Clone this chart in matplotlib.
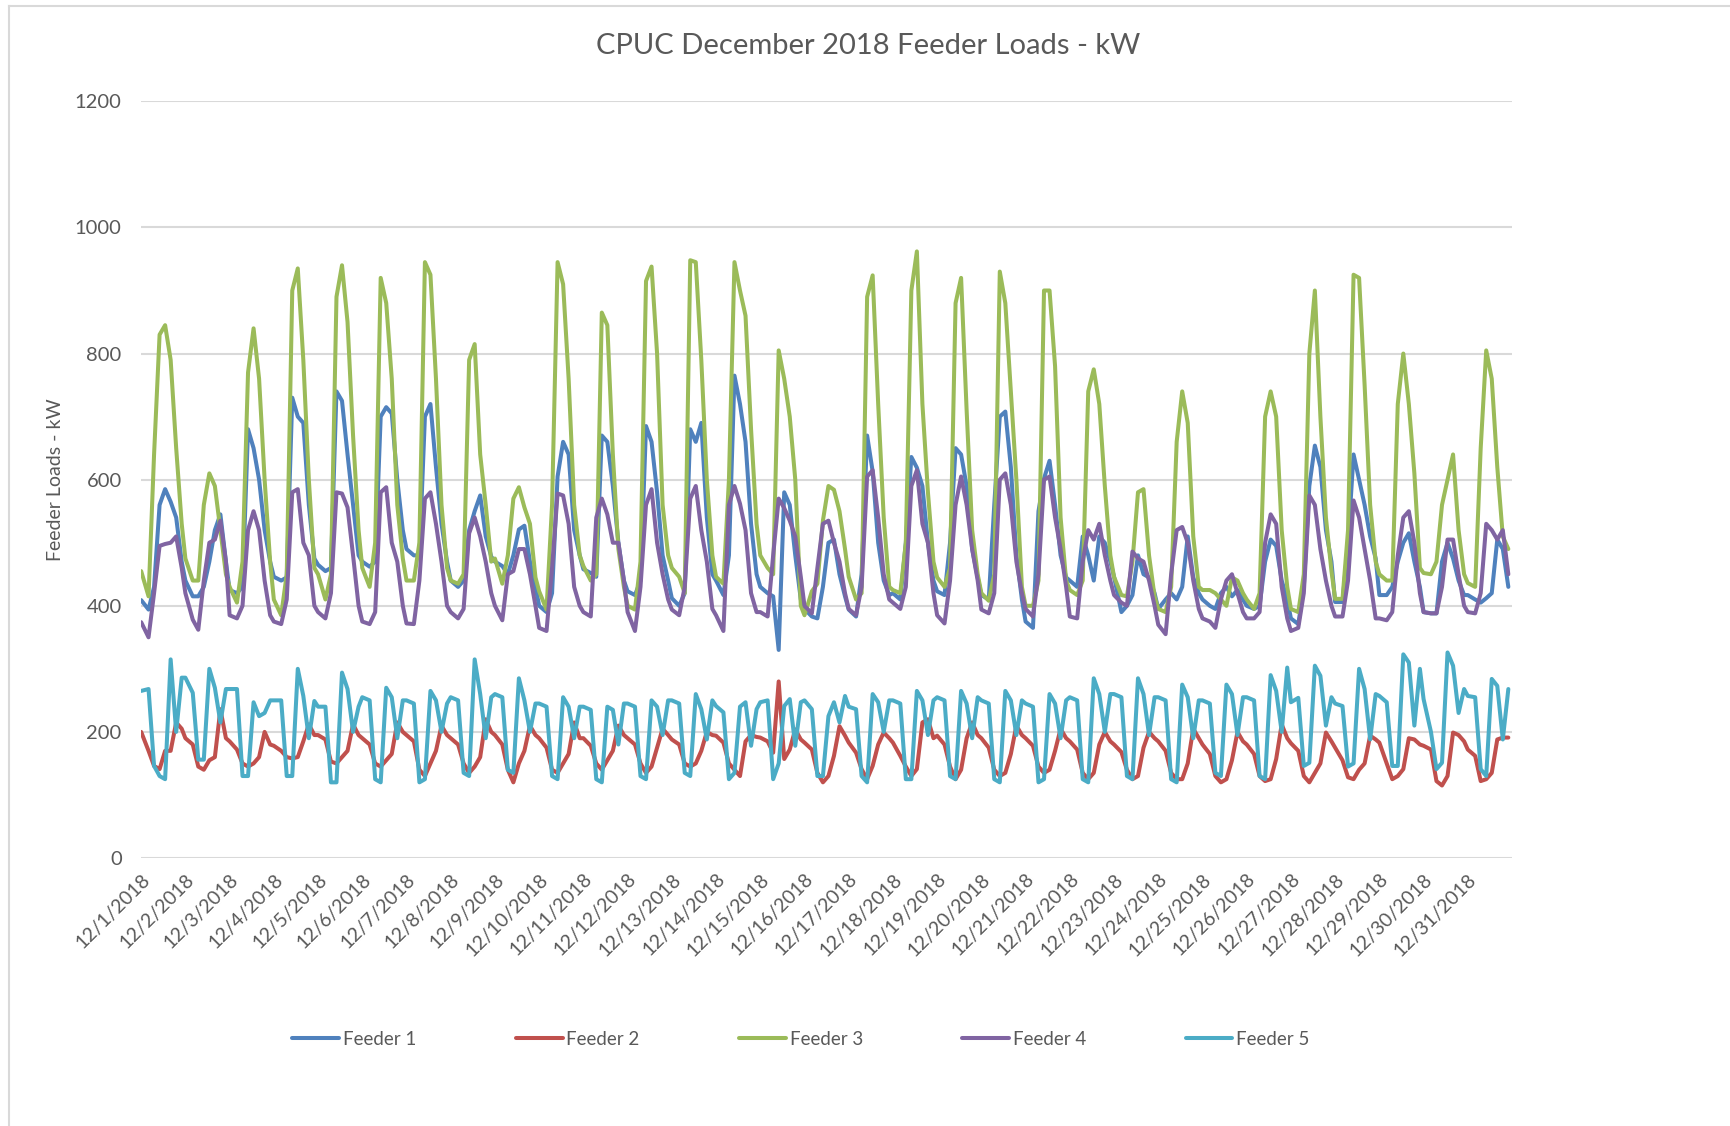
import numpy as np
import matplotlib
matplotlib.use("Agg")
import matplotlib.pyplot as plt
from matplotlib.lines import Line2D

plt.rcParams['font.family'] = ['Lato', 'DejaVu Sans']

# day labels (one tick per day, at the start of the day)
dates = [f"12/{d}/2018" for d in range(1, 32)]
# sample hours
hours = [0, 4, 7, 10, 13, 16, 19, 22]

# kW, one row per day, values at the hours above
feeder1 = [
    [409, 394, 430, 560, 585, 565, 540, 470],
    [440, 415, 415, 430, 470, 520, 545, 470],
    [425, 420, 430, 680, 650, 600, 520, 470],
    [446, 440, 445, 730, 700, 690, 560, 475],
    [465, 455, 460, 740, 725, 640, 560, 480],
    [470, 462, 470, 700, 715, 705, 600, 520],
    [490, 480, 480, 700, 720, 620, 530, 470],
    [440, 430, 440, 520, 550, 575, 510, 478],
    [470, 463, 450, 480, 521, 527, 470, 430],
    [400, 390, 420, 605, 660, 640, 520, 480],
    [458, 452, 446, 670, 660, 590, 500, 440],
    [423, 417, 440, 685, 660, 580, 480, 440],
    [412, 400, 420, 680, 660, 690, 540, 450],
    [440, 417, 480, 765, 720, 660, 530, 450],
    [430, 420, 415, 330, 580, 560, 480, 410],
    [395, 383, 380, 430, 500, 505, 450, 415],
    [394, 383, 450, 670, 613, 500, 440, 417],
    [420, 410, 500, 636, 619, 590, 500, 440],
    [423, 417, 500, 650, 640, 590, 490, 445],
    [417, 410, 560, 700, 708, 620, 480, 410],
    [375, 365, 550, 602, 630, 560, 480, 445],
    [440, 430, 510, 480, 440, 510, 500, 470],
    [446, 390, 400, 417, 480, 450, 445, 420],
    [395, 410, 420, 410, 430, 510, 445, 420],
    [410, 400, 395, 420, 430, 415, 425, 410],
    [400, 395, 400, 470, 505, 495, 440, 410],
    [380, 371, 430, 590, 654, 620, 520, 470],
    [406, 406, 500, 640, 600, 560, 510, 475],
    [417, 417, 430, 470, 500, 515, 470, 430],
    [390, 388, 388, 470, 500, 475, 440, 417],
    [417, 410, 405, 412, 420, 505, 490, 430],
]

feeder2 = [
    [200, 170, 146, 141, 170, 170, 215, 205],
    [190, 180, 145, 140, 155, 160, 236, 190],
    [185, 172, 150, 145, 150, 160, 200, 180],
    [178, 170, 160, 158, 160, 185, 212, 195],
    [195, 188, 153, 150, 160, 170, 212, 195],
    [190, 180, 150, 145, 155, 165, 215, 200],
    [195, 185, 140, 130, 150, 170, 210, 195],
    [190, 180, 150, 135, 145, 160, 220, 200],
    [195, 180, 140, 120, 150, 170, 210, 195],
    [190, 175, 140, 135, 150, 165, 215, 190],
    [190, 178, 150, 140, 155, 170, 210, 195],
    [190, 180, 150, 135, 145, 175, 205, 195],
    [188, 180, 150, 145, 150, 170, 200, 195],
    [194, 183, 150, 140, 130, 185, 195, 192],
    [191, 185, 167, 280, 157, 172, 204, 188],
    [183, 172, 135, 120, 130, 162, 209, 194],
    [183, 167, 141, 125, 146, 180, 199, 190],
    [183, 162, 145, 130, 141, 215, 220, 190],
    [194, 180, 145, 125, 140, 190, 215, 195],
    [190, 175, 140, 130, 135, 165, 210, 195],
    [190, 178, 145, 135, 140, 170, 205, 190],
    [185, 172, 135, 125, 135, 180, 200, 185],
    [180, 168, 140, 125, 130, 175, 200, 190],
    [185, 170, 135, 125, 125, 150, 205, 190],
    [180, 165, 130, 120, 125, 155, 200, 185],
    [180, 165, 130, 122, 125, 157, 212, 190],
    [182, 170, 130, 120, 135, 150, 199, 185],
    [175, 155, 128, 125, 140, 150, 194, 188],
    [183, 150, 125, 130, 141, 190, 188, 180],
    [178, 172, 122, 115, 130, 199, 195, 185],
    [172, 162, 122, 125, 135, 188, 191, 191],
]

feeder3 = [
    [455, 415, 640, 830, 845, 790, 650, 530],
    [475, 440, 440, 560, 610, 590, 520, 450],
    [430, 405, 470, 770, 840, 760, 600, 470],
    [410, 385, 450, 900, 935, 790, 600, 460],
    [450, 410, 450, 890, 940, 850, 670, 520],
    [460, 430, 500, 920, 880, 760, 560, 475],
    [440, 440, 500, 945, 925, 760, 560, 460],
    [440, 435, 450, 790, 815, 640, 560, 470],
    [475, 435, 480, 570, 588, 556, 530, 445],
    [423, 394, 560, 945, 910, 760, 560, 480],
    [463, 440, 450, 865, 845, 640, 490, 430],
    [400, 394, 470, 915, 938, 800, 560, 480],
    [460, 446, 420, 948, 945, 790, 600, 480],
    [446, 435, 600, 945, 900, 860, 680, 530],
    [480, 460, 450, 805, 760, 700, 600, 400],
    [385, 423, 435, 535, 590, 584, 550, 490],
    [446, 410, 420, 890, 924, 720, 540, 430],
    [425, 420, 500, 900, 962, 720, 580, 470],
    [445, 430, 460, 880, 920, 710, 520, 450],
    [420, 408, 450, 930, 880, 740, 600, 430],
    [400, 400, 440, 900, 900, 780, 540, 440],
    [425, 417, 440, 740, 775, 720, 590, 480],
    [446, 417, 415, 470, 580, 585, 480, 415],
    [395, 390, 430, 660, 740, 690, 510, 430],
    [425, 425, 420, 410, 400, 445, 440, 420],
    [410, 395, 420, 700, 740, 700, 520, 430],
    [395, 390, 450, 800, 900, 700, 540, 455],
    [411, 411, 520, 925, 920, 750, 560, 470],
    [450, 440, 440, 720, 800, 720, 610, 460],
    [452, 450, 470, 560, 600, 640, 520, 450],
    [436, 430, 650, 805, 760, 620, 510, 490],
]

feeder4 = [
    [374, 350, 420, 495, 498, 500, 510, 460],
    [420, 378, 362, 440, 500, 505, 535, 470],
    [385, 380, 400, 520, 550, 520, 440, 385],
    [375, 371, 410, 580, 585, 500, 480, 400],
    [390, 380, 420, 580, 578, 556, 480, 400],
    [375, 371, 390, 580, 588, 500, 470, 400],
    [372, 371, 440, 570, 580, 530, 470, 400],
    [390, 380, 395, 515, 540, 510, 470, 420],
    [400, 377, 450, 455, 490, 490, 450, 400],
    [365, 360, 460, 578, 575, 530, 430, 400],
    [390, 383, 540, 570, 545, 500, 500, 440],
    [390, 360, 430, 560, 585, 500, 450, 410],
    [394, 385, 430, 570, 590, 520, 470, 395],
    [385, 360, 560, 590, 562, 520, 420, 390],
    [390, 383, 480, 570, 555, 535, 510, 446],
    [400, 388, 460, 530, 535, 500, 470, 420],
    [395, 385, 430, 605, 615, 540, 450, 410],
    [405, 395, 430, 590, 615, 530, 500, 420],
    [385, 372, 440, 560, 605, 560, 490, 440],
    [394, 388, 420, 600, 610, 560, 470, 420],
    [395, 383, 450, 600, 605, 540, 490, 430],
    [383, 380, 470, 520, 505, 530, 480, 440],
    [417, 405, 400, 486, 475, 470, 440, 400],
    [370, 355, 450, 520, 525, 500, 440, 395],
    [380, 375, 365, 410, 440, 450, 420, 390],
    [380, 380, 390, 500, 545, 530, 430, 380],
    [360, 365, 420, 575, 560, 490, 440, 400],
    [383, 383, 440, 567, 540, 490, 440, 380],
    [380, 377, 390, 480, 540, 550, 500, 420],
    [390, 388, 388, 430, 505, 505, 450, 400],
    [390, 388, 420, 530, 520, 505, 520, 450],
]

feeder5 = [
    [265, 268, 146, 130, 125, 315, 200, 286],
    [286, 262, 156, 156, 300, 270, 215, 268],
    [268, 268, 130, 130, 247, 225, 230, 250],
    [250, 250, 130, 130, 300, 257, 190, 249],
    [240, 240, 120, 120, 294, 268, 200, 240],
    [255, 250, 125, 120, 270, 255, 190, 250],
    [250, 245, 120, 125, 265, 250, 200, 245],
    [255, 250, 135, 130, 315, 260, 190, 255],
    [260, 255, 140, 135, 285, 250, 200, 245],
    [245, 240, 130, 125, 255, 240, 190, 240],
    [240, 235, 125, 120, 240, 235, 180, 245],
    [245, 240, 130, 125, 250, 240, 195, 250],
    [250, 245, 135, 130, 260, 236, 188, 250],
    [241, 231, 125, 135, 240, 247, 178, 236],
    [247, 250, 125, 150, 241, 252, 178, 247],
    [250, 236, 130, 130, 225, 247, 215, 257],
    [240, 236, 130, 120, 260, 247, 200, 250],
    [250, 245, 125, 125, 265, 250, 195, 250],
    [255, 250, 130, 125, 265, 245, 190, 255],
    [250, 245, 125, 120, 265, 250, 195, 250],
    [245, 240, 120, 125, 260, 245, 190, 250],
    [255, 250, 125, 120, 285, 260, 200, 260],
    [260, 255, 130, 125, 285, 260, 195, 255],
    [255, 250, 125, 120, 275, 255, 190, 250],
    [250, 245, 135, 130, 275, 260, 195, 255],
    [255, 250, 130, 125, 290, 265, 200, 302],
    [247, 254, 146, 151, 305, 289, 210, 255],
    [245, 241, 145, 150, 300, 268, 188, 260],
    [257, 247, 146, 146, 323, 310, 210, 300],
    [252, 200, 141, 151, 326, 305, 230, 268],
    [257, 255, 141, 130, 284, 273, 188, 268],
]

names = ["Feeder 1", "Feeder 2", "Feeder 3", "Feeder 4", "Feeder 5"]
colors = ["#4F81BD", "#C0504D", "#9BBB59", "#8064A2", "#4BACC6"]
series = [feeder1, feeder2, feeder3, feeder4, feeder5]

# x position in days since 12/1 00:00
x = np.array([d + h / 24.0 for d in range(len(dates)) for h in hours])

fig = plt.figure(figsize=(17.30, 11.26), dpi=100)
ax = fig.add_axes([0.0816, 0.238, 0.7924, 0.672])

for name, col, rows in zip(names, colors, series):
    y = np.array(rows, dtype=float).ravel()
    ax.plot(x, y, color=col, lw=2.9, label=name,
            solid_joinstyle="round", solid_capstyle="round")

ax.set_xlim(0, len(dates))
ax.set_ylim(0, 1200)
ax.set_yticks(range(0, 1201, 200))
ax.set_xticks(range(len(dates)))
ax.set_xticklabels(dates, rotation=45, ha="right", rotation_mode="anchor")
ax.grid(axis="y", color="#d9d9d9", lw=1.5)
ax.set_axisbelow(True)
for s in ax.spines.values():
    s.set_visible(False)
ax.tick_params(length=0, labelcolor="#595959")
ax.tick_params(axis="x", pad=9, labelsize=14)
ax.tick_params(axis="y", pad=14, labelsize=14.5)

ax.set_ylabel("Feeder Loads - kW", fontsize=14, color="#595959", labelpad=8)
fig.text(0.502, 0.959, "CPUC December 2018 Feeder Loads - kW",
         ha="center", va="center", fontsize=21, color="#595959")

fig.legend(loc="center", bbox_to_anchor=(0.463, 0.077), ncol=5, frameon=False,
           fontsize=13.5, labelcolor="#595959", handlelength=2.5,
           handletextpad=0.2, columnspacing=5.3)

# light chart-area frame (left and top edges)
fig.add_artist(Line2D([0.005, 0.005], [0, 0.995], color="#d9d9d9", lw=1.5))
fig.add_artist(Line2D([0.005, 1.0], [0.995, 0.995], color="#d9d9d9", lw=1.5))

fig.savefig("out.png", dpi=100)
